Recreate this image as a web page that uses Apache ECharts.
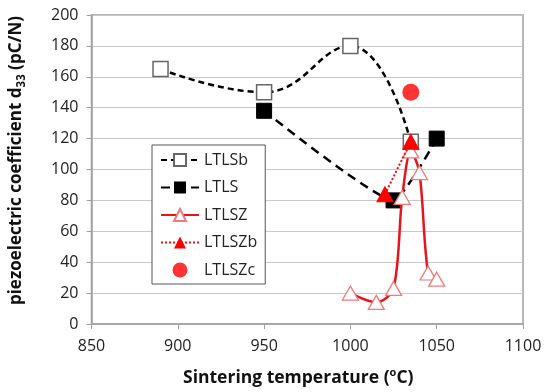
<!DOCTYPE html>
<html>
<head>
<meta charset="utf-8">
<script src="https://cdn.jsdelivr.net/npm/echarts@6/dist/echarts.min.js"></script>
<style>html,body{margin:0;padding:0;background:#fff}#c{width:545px;height:392px}</style>
</head>
<body>
<div id="c"></div>
<script>
var xTicks = [850, 900, 950, 1000, 1050, 1100];
var yTicks = [0, 20, 40, 60, 80, 100, 120, 140, 160, 180, 200];

var ltlsbX = [890, 950, 1000, 1035];
var ltlsbY = [165, 150, 180, 118];

var ltlsX = [950, 1025, 1050];
var ltlsY = [138, 80, 120];

var ltlszX = [1000, 1015, 1025, 1030, 1035, 1040, 1045, 1050];
var ltlszY = [20, 14, 23, 82, 112, 98, 33, 29];

var ltlszbX = [1020, 1035];
var ltlszbY = [84, 118];

var ltlszcX = [1035];
var ltlszcY = [150];

function pairs(xs, ys) { return xs.map(function (x, i) { return [x, ys[i]]; }); }

var FONT = 'Open Sans';
var chart = echarts.init(document.getElementById('c'));
chart.setOption({
  animation: false,
  backgroundColor: '#fff',
  grid: { left: 90, right: 22, top: 15, bottom: 67, show: true, borderColor: '#a0a0a0', borderWidth: 1.5 },
  xAxis: {
    type: 'value', min: xTicks[0], max: xTicks[xTicks.length - 1], interval: 50,
    axisLine: { show: true, lineStyle: { color: '#a0a0a0', width: 1.5 } },
    axisTick: { show: true, length: 5, lineStyle: { color: '#a0a0a0' } },
    splitLine: { show: false },
    axisLabel: { color: '#222', fontSize: 16, fontFamily: FONT, margin: 14, formatter: function (v) { return String(v); } },
    name: '{a|Sintering temperature (}{s|o}{a|C)}',
    nameLocation: 'middle', nameGap: 43,
    nameTextStyle: {
      padding: [0, 18, 0, 0],
      rich: {
        a: { fontSize: 17.5, fontWeight: 'bold', fontFamily: FONT, color: '#111', lineHeight: 22 },
        s: { fontSize: 11, fontWeight: 'bold', fontFamily: FONT, color: '#111', verticalAlign: 'top', lineHeight: 22, padding: [0, 0, 8, 0] }
      }
    }
  },
  yAxis: {
    type: 'value', min: yTicks[0], max: yTicks[yTicks.length - 1], interval: 20,
    axisLine: { show: true, lineStyle: { color: '#a0a0a0', width: 1.5 } },
    axisTick: { show: true, length: 5, lineStyle: { color: '#a0a0a0' } },
    splitLine: { show: true, lineStyle: { color: '#c8c8c8', width: 1.2 } },
    axisLabel: { color: '#222', fontSize: 16, fontFamily: FONT, margin: 13 },
    name: '{a|piezoelectric coefficient d}{s|33}{a| (pC/N)}',
    nameLocation: 'middle', nameGap: 64, nameRotate: 90,
    nameTextStyle: {
      padding: [0, 0, 0, 18],
      rich: {
        a: { fontSize: 17, fontWeight: 'bold', fontFamily: FONT, color: '#111', lineHeight: 22 },
        s: { fontSize: 11.5, fontWeight: 'bold', fontFamily: FONT, color: '#111', verticalAlign: 'bottom', lineHeight: 22, padding: [7, 0, 0, 0] }
      }
    }
  },
  legend: {
    orient: 'vertical', left: 152, top: 145,
    backgroundColor: '#fff', borderColor: '#555', borderWidth: 1,
    padding: [7, 8, 6, 8], itemGap: 11.5, itemWidth: 38, itemHeight: 15,
    textStyle: { fontSize: 16, fontFamily: FONT, color: '#222' },
    data: ['LTLSb', 'LTLS', 'LTLSZ', 'LTLSZb', 'LTLSZc']
  },
  series: [
    {
      name: 'LTLSb', type: 'line', smooth: 0.45, z: 3,
      data: pairs(ltlsbX, ltlsbY),
      symbol: 'rect', symbolSize: 15,
      lineStyle: { color: '#000', width: 2.5, type: [6, 4] },
      itemStyle: { color: '#fff', borderColor: '#666', borderWidth: 1.5 }
    },
    {
      name: 'LTLS', type: 'line', smooth: 0.15, z: 3,
      data: pairs(ltlsX, ltlsY),
      symbol: 'rect', symbolSize: 15,
      lineStyle: { color: '#000', width: 2.5, type: [9, 6] },
      itemStyle: { color: '#000', borderColor: '#000' }
    },
    {
      name: 'LTLSZ', type: 'line', smooth: 0.3, z: 4,
      data: pairs(ltlszX, ltlszY),
      symbol: 'triangle', symbolSize: [16, 14],
      lineStyle: { color: '#e8141c', width: 2.5 },
      itemStyle: { color: '#fff', opacity: 1, borderColor: '#ef7b7b', borderWidth: 1.3 }
    },
    {
      name: 'LTLSZb', type: 'line', smooth: false, z: 5,
      data: pairs(ltlszbX, ltlszbY),
      symbol: 'triangle', symbolSize: [16, 15],
      lineStyle: { color: '#ee1111', width: 2, type: [2, 2] },
      itemStyle: { color: '#ff0000', borderColor: '#ff0000' }
    },
    {
      name: 'LTLSZc', type: 'scatter', z: 5,
      data: pairs(ltlszcX, ltlszcY),
      symbol: 'circle', symbolSize: 17,
      itemStyle: { color: '#ff0000' }
    }
  ]
});
</script>
</body>
</html>
